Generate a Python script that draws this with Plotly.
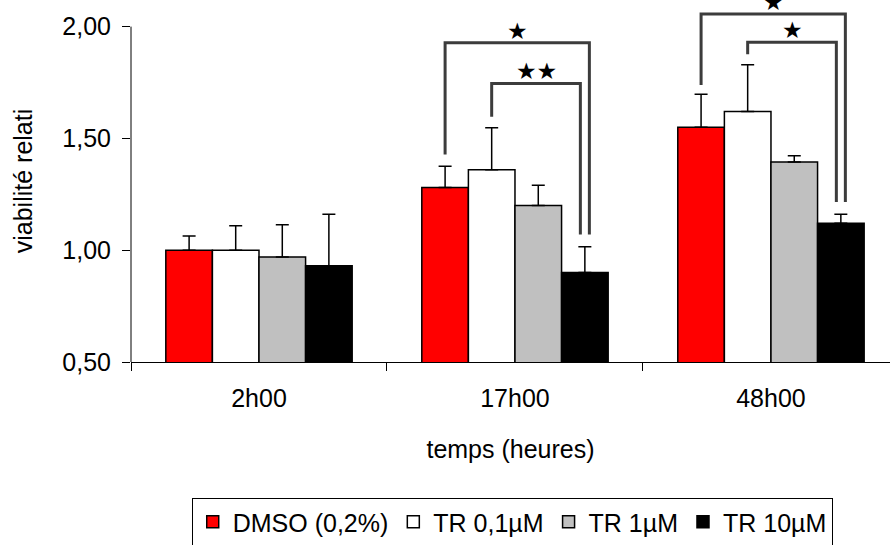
import plotly.graph_objects as go

# ---- data ----
categories = ["2h00", "17h00", "48h00"]
series_names = ["DMSO (0,2%)", "TR 0,1µM", "TR 1µM", "TR 10µM"]
series_colors = ["#FF0000", "#FFFFFF", "#C0C0C0", "#000000"]

dmso = [1.00, 1.28, 1.55]
tr_01 = [1.00, 1.36, 1.62]
tr_1 = [0.97, 1.20, 1.395]
tr_10 = [0.93, 0.90, 1.12]

err_dmso = [0.064, 0.096, 0.147]
err_tr_01 = [0.109, 0.188, 0.209]
err_tr_1 = [0.144, 0.090, 0.027]
err_tr_10 = [0.231, 0.115, 0.041]

y_ticks = [0.5, 1.0, 1.5, 2.0]

# significance brackets: (category index, left series, right series,
#  left foot, top, right foot, label, right-side nudge)
brackets = [
    (1, 0, 3, 1.428, 1.928, 1.070, "★", 0.0176),
    (1, 1, 3, 1.597, 1.746, 1.070, "★★", -0.0176),
    (2, 0, 3, 1.739, 2.056, 1.216, "★", 0.0176),
    (2, 1, 3, 1.876, 1.930, 1.216, "★", -0.0176),
]

values = [dmso, tr_01, tr_1, tr_10]
errors = [err_dmso, err_tr_01, err_tr_1, err_tr_10]

BARGAP = 0.272
bar_w = (1 - BARGAP) / len(values)

fig = go.Figure()
for name, col, vals, errs in zip(series_names, series_colors, values, errors):
    fig.add_trace(go.Bar(
        x=categories, y=vals, name=name,
        marker=dict(color=col, line=dict(color="black", width=1.5)),
        error_y=dict(type="data", symmetric=False, array=errs,
                     arrayminus=[0] * len(errs), color="black",
                     thickness=1.5, width=6.5),
    ))


def center(cat, s):
    return cat + (s - (len(values) - 1) / 2) * bar_w


shapes = [
    # y axis line stops at the 2,00 tick
    dict(type="line", xref="paper", x0=0, x1=0, yref="y",
         y0=y_ticks[0], y1=y_ticks[-1], line=dict(color="black", width=1)),
]
annotations = []
for cat, sl, sr, yl, yt, yr, lab, nudge in brackets:
    xl = center(cat, sl)
    xr = center(cat, sr) + nudge
    shapes.append(dict(
        type="path", xref="x", yref="y",
        path=f"M {xl},{yl} V {yt} H {xr} V {yr}",
        line=dict(color="#3c3c3c", width=3),
    ))
    annotations.append(dict(
        x=(xl + xr) / 2, y=yt, xref="x", yref="y", text=lab,
        showarrow=False, yanchor="bottom", yshift=-3,
        font=dict(family="DejaVu Sans", size=23, color="black"),
    ))

fig.update_layout(
    width=890, height=545,
    margin=dict(l=131, r=0, t=0, b=183, pad=0, autoexpand=False),
    plot_bgcolor="white", paper_bgcolor="white",
    barmode="group", bargap=BARGAP, bargroupgap=0,
    separators=", ",
    font=dict(family="Liberation Sans, Arial, sans-serif", size=25, color="black"),
    shapes=shapes, annotations=annotations,
    showlegend=True,
    legend=dict(orientation="h", x=0.08, y=-0.376, xanchor="left", yanchor="top",
                bordercolor="black", borderwidth=1, bgcolor="white",
                font=dict(size=25), traceorder="normal",
                itemwidth=30, tracegroupgap=0),
    xaxis=dict(
        type="category", range=[-0.5, 2.465],
        showline=True, linecolor="black", linewidth=1,
        ticks="outside", tickson="boundaries", ticklen=8, tickcolor="black",
        ticklabelstandoff=14,
        showgrid=False, zeroline=False,
        title=dict(text="temps (heures)", standoff=29, font=dict(size=25)),
    ),
    yaxis=dict(
        range=[0.5, 2.119], tickvals=y_ticks, tickformat=".2f",
        showline=False, ticks="outside", ticklen=8, tickcolor="black",
        ticklabelstandoff=6,
        showgrid=False, zeroline=False,
        title=dict(text="viabilité relati", standoff=22, font=dict(size=25)),
    ),
)

fig.write_html(
    "out.html",
    config={"displayModeBar": False, "staticPlot": True},
    post_script="document.body.style.margin='0';document.body.style.overflow='hidden';",
)
